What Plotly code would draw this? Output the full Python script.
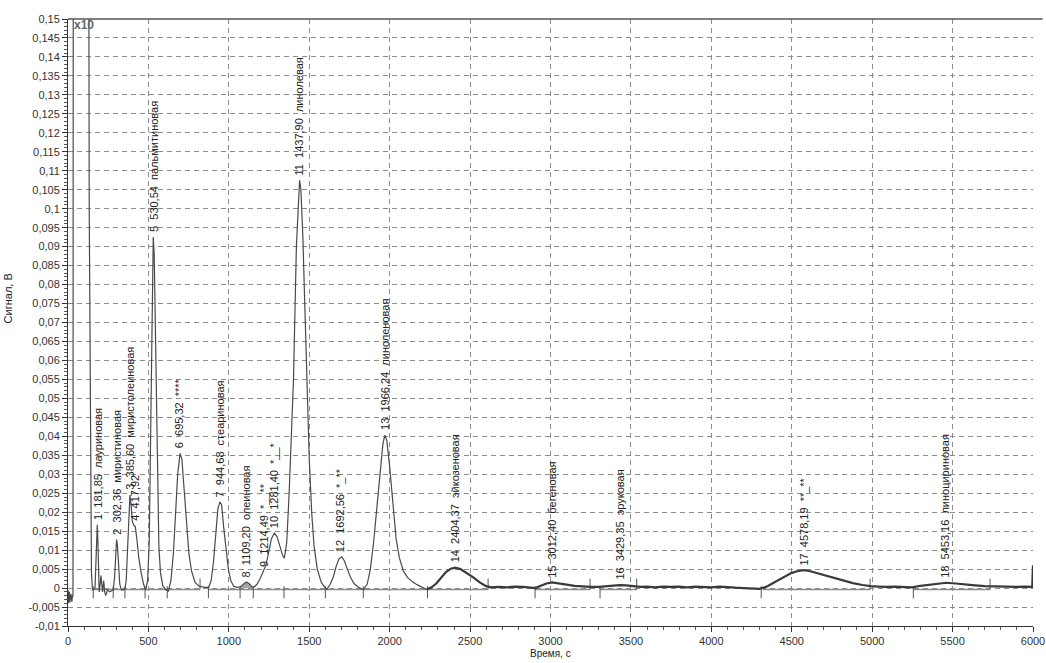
import plotly.graph_objects as go

# ---- chromatogram signal (time, s ; signal, V) ----
time_s = [
    0, 3, 8, 12, 18, 24, 28, 31, 33, 128, 132, 138, 142, 146, 152, 165,
    168, 174, 179, 182, 186, 190, 194, 200, 205, 210, 215, 222, 228, 235, 245, 260, 275,
    281, 290, 296, 302, 307, 314, 322, 332, 345, 355,
    362, 370, 378, 385, 392, 400, 410, 418, 428, 440, 455, 470, 483,
    495, 505, 512, 518, 524, 530, 536, 543, 550, 557, 565, 575, 590, 610, 624,
    640, 655, 668, 682, 697, 708, 722, 738, 752, 768, 790, 815, 850, 875,
    890, 905, 918, 932, 945, 955, 968, 982, 997, 1012, 1030, 1050,
    1070, 1090, 1109, 1125, 1145, 1155,
    1175, 1195, 1214, 1230, 1248, 1265, 1283, 1300, 1318, 1335, 1345,
    1360, 1375, 1390, 1402, 1420, 1432, 1440, 1448, 1460, 1472, 1485, 1500, 1515, 1530, 1550, 1575, 1600, 1610,
    1630, 1650, 1668, 1685, 1702, 1718, 1735, 1755, 1778, 1805, 1836,
    1860, 1880, 1900, 1920, 1940, 1958, 1970, 1982, 2000, 2020, 2040, 2060, 2085, 2110, 2140, 2170, 2200, 2230,
    2260, 2290, 2320, 2350, 2380, 2408, 2440, 2480, 2520, 2560, 2600, 2630, 2680, 2730, 2780, 2830, 2880, 2905,
    2940, 2975, 3010, 3050, 3100, 3150, 3200, 3250, 3300, 3350, 3400, 3430, 3470, 3520, 3560,
    3600, 3650, 3700, 3750, 3800, 3850, 3900, 3950, 4000, 4050, 4100, 4150, 4200, 4250, 4300,
    4340, 4380, 4420, 4460, 4500, 4540, 4575, 4610, 4660, 4710, 4760, 4820, 4880, 4940, 4990, 5040, 5090, 5140, 5190, 5250,
    5300, 5350, 5400, 5460, 5520, 5580, 5640, 5700, 5750, 5800, 5850, 5900, 5950, 5995, 6000,
]
signal_v = [
    -0.0005, -0.004, -0.001, -0.0038, -0.0015, -0.0036, -0.002, -0.002, 0.2, 0.2, 0.1, 0.06, 0.02, 0.004, -0.0005, -0.0003,
    0.0, 0.006, 0.015, 0.0167, 0.012, 0.003, -0.001, 0.001, 0.0033, 0.001, -0.001, 0.002, -0.001, -0.002, -0.0005, -0.001, -0.0005,
    -0.0005, 0.003, 0.009, 0.0128, 0.0115, 0.005, 0.001, -0.0005, -0.0005, 0.0,
    0.002, 0.01, 0.021, 0.0245, 0.022, 0.0175, 0.0165, 0.0163, 0.013, 0.008, 0.004, 0.001, -0.0005,
    0.002, 0.012, 0.035, 0.065, 0.086, 0.0925, 0.088, 0.07, 0.045, 0.025, 0.011, 0.004, 0.0005, -0.0005, -0.0008,
    0.002, 0.009, 0.019, 0.03, 0.0355, 0.034, 0.026, 0.017, 0.009, 0.0045, 0.0015, 0.0005, 0.0002, 0.0002,
    0.002, 0.007, 0.014, 0.021, 0.0227, 0.022, 0.016, 0.01, 0.005, 0.002, 0.0005, 0.0002,
    0.0003, 0.001, 0.0016, 0.0012, 0.0003, 0.0002,
    0.001, 0.0025, 0.0043, 0.006, 0.0095, 0.013, 0.0145, 0.0135, 0.011, 0.0085, 0.0079,
    0.012, 0.025, 0.04, 0.055, 0.09, 0.103, 0.1075, 0.105, 0.093, 0.075, 0.054, 0.034, 0.02, 0.011, 0.005, 0.0015, 0.0, -0.0003,
    0.001, 0.003, 0.0058, 0.0077, 0.0082, 0.0072, 0.0052, 0.003, 0.0012, 0.0002, -0.0004,
    0.001, 0.005, 0.012, 0.021, 0.031, 0.038, 0.0403, 0.039, 0.032, 0.022, 0.013, 0.008, 0.0045, 0.0028, 0.0017, 0.0009, 0.0002, -0.0004,
    0.0002, 0.0012, 0.0028, 0.0042, 0.0051, 0.0054, 0.005, 0.004, 0.0028, 0.0015, 0.0005, 0.0002, 0.0003, 0.0002, 0.0004, 0.0003, 0.0002, 0.0,
    0.0006, 0.0012, 0.0015, 0.0013, 0.0009, 0.0006, 0.0004, 0.0003, 0.0003, 0.0005, 0.0007, 0.0008, 0.0007, 0.0005, 0.0003,
    0.0004, 0.0002, 0.0004, 0.0003, 0.0004, 0.0002, 0.0004, 0.0003, 0.0002, 0.0004, 0.0002, 0.0001, 0.0, -0.0001, -0.0002,
    0.0003, 0.0012, 0.0022, 0.0032, 0.004, 0.0045, 0.0047, 0.0045, 0.0039, 0.0033, 0.0027, 0.002, 0.0013, 0.0008, 0.0005, 0.0004, 0.0003, 0.0004, 0.0003, 0.0002,
    0.0006, 0.0009, 0.0012, 0.0014, 0.0012, 0.0009, 0.0007, 0.0005, 0.0004, 0.0003, 0.0004, 0.0003, 0.0004, 0.0003, 0.006,
]

# ---- peaks ----
peak_numbers = [1, 2, 3, 4, 5, 6, 7, 8, 9, 10, 11, 12, 13, 14, 15, 16, 17, 18]
peak_times = [181.85, 302.36, 385.60, 417.92, 530.54, 695.32, 944.68, 1109.20, 1214.49,
              1281.40, 1437.90, 1692.56, 1966.24, 2404.37, 3012.40, 3429.35, 4578.19, 5453.16]
peak_heights = [0.0167, 0.0128, 0.0245, 0.0165, 0.0925, 0.0355, 0.0227, 0.0016, 0.0043,
                0.0145, 0.1075, 0.0082, 0.0403, 0.0054, 0.0015, 0.0008, 0.0047, 0.0014]
peak_names = ["лауриновая", "миристиновая", "миристолеиновая", "", "пальмитиновая", "****",
              "стеариновая", "олеиновая", "*__**", "*__*", "линолевая", "*_**", "линоленовая",
              "эйкозеновая", "бегеновая", "эруковая", "**_**", "линоцириновая"]

# integration baselines (start, end) and boundary marks
baseline_start = [168, 871, 2240, 2904, 3308, 4320, 5256]
baseline_end = [821, 2230, 2612, 3246, 3536, 4987, 5733]
mark_down = [157, 281, 354, 479, 617, 873, 1070, 1152, 1343, 1600, 1836, 2235, 2904, 3308, 4310, 5256]
mark_up = [821, 2612, 3246, 3536, 4987, 5733]
base_level = -0.0004
filled_peak = (1070, 1152)

# ---- axis ticks ----
x_ticks = [0, 500, 1000, 1500, 2000, 2500, 3000, 3500, 4000, 4500, 5000, 5500, 6000]
x_ticklabels = ["0", "500", "1000", "1500", "2000", "2500", "3000", "3500", "4000", "4500", "5000", "5500", "6000"]
y_ticks = [0.15, 0.145, 0.14, 0.135, 0.13, 0.125, 0.12, 0.115, 0.11, 0.105, 0.1, 0.095, 0.09, 0.085,
           0.08, 0.075, 0.07, 0.065, 0.06, 0.055, 0.05, 0.045, 0.04, 0.035, 0.03, 0.025, 0.02, 0.015,
           0.01, 0.005, 0, -0.005, -0.01]
y_ticklabels = ["0,15", "0,145", "0,14", "0,135", "0,13", "0,125", "0,12", "0,115", "0,11", "0,105",
                "0,1", "0,095", "0,09", "0,085", "0,08", "0,075", "0,07", "0,065", "0,06", "0,055",
                "0,05", "0,045", "0,04", "0,035", "0,03", "0,025", "0,02", "0,015", "0,01", "0,005",
                "0", "-0,005", "-0,01"]

FONT = "Liberation Sans, Arial, sans-serif"
fig = go.Figure()

# shaded peak 8
fx = [t for t in time_s if filled_peak[0] <= t <= filled_peak[1]]
fy = [v for t, v in zip(time_s, signal_v) if filled_peak[0] <= t <= filled_peak[1]]
fig.add_trace(go.Scatter(x=fx, y=fy, mode="lines", fill="tozeroy", fillcolor="rgba(90,90,90,0.55)",
                         line=dict(width=0), hoverinfo="skip"))

# integration baselines
bx, by = [], []
for s, e in zip(baseline_start, baseline_end):
    bx += [s, e, None]
    by += [base_level, base_level, None]
fig.add_trace(go.Scatter(x=bx, y=by, mode="lines", line=dict(color="#8a8a8a", width=1.5), hoverinfo="skip"))

# boundary marks
mx, my = [], []
for t in mark_down:
    mx += [t, t, None]
    my += [0.0005, -0.0027, None]
for t in mark_up:
    mx += [t, t, None]
    my += [-0.0004, 0.0025, None]
fig.add_trace(go.Scatter(x=mx, y=my, mode="lines", line=dict(color="#555555", width=1), hoverinfo="skip"))

# signal: early part thin, late (noisy) part drawn thicker
split = time_s.index(2230)
fig.add_trace(go.Scatter(x=time_s[:split + 1], y=signal_v[:split + 1], mode="lines",
                         line=dict(color="#4a4a4a", width=1.2)))
fig.add_trace(go.Scatter(x=time_s[split:], y=signal_v[split:], mode="lines",
                         line=dict(color="#3a3a3a", width=2.2)))

# peak labels
for n, t, h, name in zip(peak_numbers, peak_times, peak_heights, peak_names):
    txt = f"{n}  {t:.2f}".replace(".", ",")
    if name:
        txt += "  " + name
    fig.add_annotation(x=t, y=h, text=txt, textangle=-90, showarrow=False,
                       xanchor="center", yanchor="bottom", yshift=3,
                       font=dict(family=FONT, size=11, color="#222222"))

fig.add_annotation(xref="paper", yref="paper", x=0.004, y=0.99, text="<b>x10</b>", showarrow=False,
                   xanchor="left", yanchor="middle", font=dict(family=FONT, size=12, color="#666666"))
fig.add_annotation(xref="paper", yref="paper", x=0.5, y=-0.046, text="Время, с", showarrow=False,
                   xanchor="center", yanchor="middle", font=dict(family=FONT, size=10, color="#222222"))
fig.add_annotation(xref="paper", yref="paper", x=-0.062, y=0.54, text="Сигнал, В", showarrow=False,
                   textangle=-90, xanchor="center", yanchor="middle",
                   font=dict(family=FONT, size=11, color="#222222"))

fig.add_shape(type="line", xref="paper", yref="paper", x0=0, x1=1.01, y0=1, y1=1,
              line=dict(color="#555555", width=1.5))

fig.update_layout(
    width=1046, height=663,
    margin=dict(l=68, r=13, t=19, b=37, autoexpand=False),
    paper_bgcolor="white", plot_bgcolor="white",
    showlegend=False,
    font=dict(family=FONT, size=11, color="#222222"),
)
fig.update_xaxes(
    range=[0, 6000], tickvals=x_ticks, ticktext=x_ticklabels, automargin=False,
    showgrid=True, gridcolor="#8c8c8c", gridwidth=1, griddash="5px,4px",
    showline=True, linecolor="#333333", linewidth=1,
    ticks="outside", ticklen=5, tickcolor="#333333",
    minor=dict(dtick=100, ticks="outside", ticklen=3, tickcolor="#555555", showgrid=False),
    zeroline=False, tickfont=dict(size=11, color="#333333"),
)
fig.update_yaxes(
    range=[-0.01, 0.15], tickvals=y_ticks, ticktext=y_ticklabels, automargin=False,
    showgrid=True, gridcolor="#8c8c8c", gridwidth=1, griddash="5px,4px",
    showline=True, linecolor="#333333", linewidth=1,
    ticks="outside", ticklen=5, tickcolor="#333333",
    minor=dict(dtick=0.001, ticks="outside", ticklen=3, tickcolor="#555555", showgrid=False),
    zeroline=False, tickfont=dict(size=11, color="#333333"),
)

# remove the default page margin so the 1046x663 figure fills the window exactly
fig.write_html("out.html", config={"displayModeBar": False},
               post_script="document.body.style.margin='0';document.body.style.overflow='hidden';")
